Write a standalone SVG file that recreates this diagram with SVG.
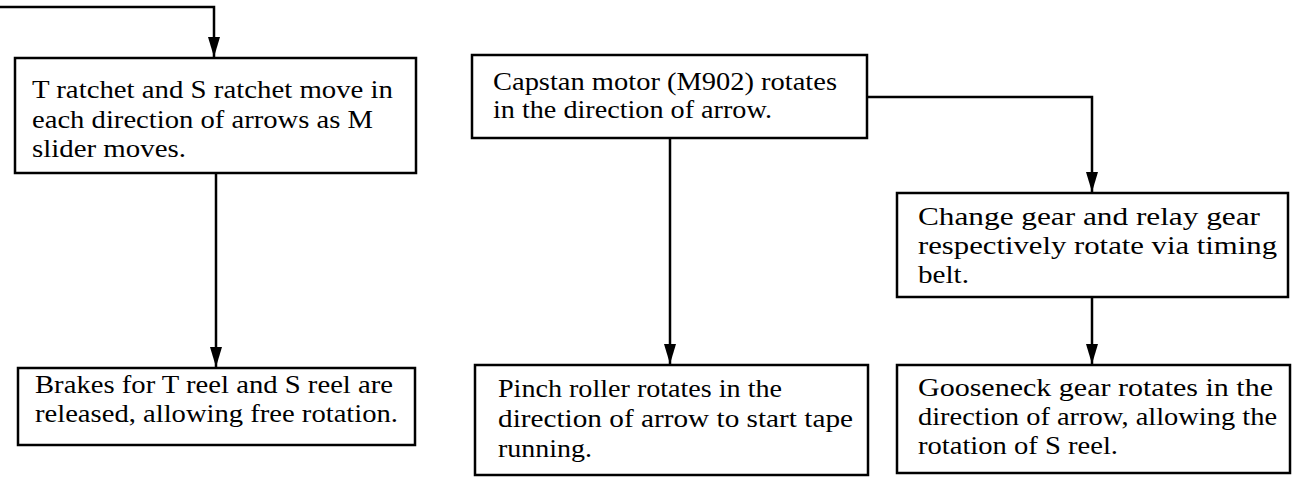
<svg xmlns="http://www.w3.org/2000/svg" width="1292" height="477" viewBox="0 0 1292 477">
<style>
.box{fill:#fff;stroke:#000;stroke-width:2.5}
.t{font-family:'Liberation Serif','Tinos','Times New Roman','DejaVu Serif','Noto Serif',serif;font-size:25px;fill:#000}
.c{fill:none;stroke:#000;stroke-width:2.5}
</style>
<defs>
<marker id="ah" viewBox="0 0 20 12" refX="20" refY="6" markerWidth="20" markerHeight="12" markerUnits="userSpaceOnUse" orient="auto">
<path d="M0,0 L20,6 L0,12 z" fill="#000"/>
</marker>
</defs>
<g id="connectors">
<path class="c" d="M0,7 H214 V57" marker-end="url(#ah)"/>
<path class="c" d="M216,173 V367" marker-end="url(#ah)"/>
<path class="c" d="M670,138 V364" marker-end="url(#ah)"/>
<path class="c" d="M867,97 H1092 V192" marker-end="url(#ah)"/>
<path class="c" d="M1092,297 V364" marker-end="url(#ah)"/>
</g>
<g id="n1">
<rect class="box" x="15" y="58" width="401" height="115"/>
<text class="t" x="32" y="98" textLength="361" lengthAdjust="spacingAndGlyphs">T ratchet and S ratchet move in</text>
<text class="t" x="32" y="128" textLength="341" lengthAdjust="spacingAndGlyphs">each direction of arrows as M</text>
<text class="t" x="32" y="157" textLength="154" lengthAdjust="spacingAndGlyphs">slider moves.</text>
</g>
<g id="n2">
<rect class="box" x="472" y="55" width="395" height="83"/>
<text class="t" x="493" y="90" textLength="344" lengthAdjust="spacingAndGlyphs">Capstan motor (M902) rotates</text>
<text class="t" x="493" y="118" textLength="279" lengthAdjust="spacingAndGlyphs">in the direction of arrow.</text>
</g>
<g id="n3">
<rect class="box" x="897" y="193" width="391" height="104"/>
<text class="t" x="918" y="225" textLength="342" lengthAdjust="spacingAndGlyphs">Change gear and relay gear</text>
<text class="t" x="918" y="254" textLength="359" lengthAdjust="spacingAndGlyphs">respectively rotate via timing</text>
<text class="t" x="918" y="283" textLength="51" lengthAdjust="spacingAndGlyphs">belt.</text>
</g>
<g id="n4">
<rect class="box" x="18" y="368" width="397" height="77"/>
<text class="t" x="35" y="393" textLength="358" lengthAdjust="spacingAndGlyphs">Brakes for T reel and S reel are</text>
<text class="t" x="35" y="422" textLength="363" lengthAdjust="spacingAndGlyphs">released, allowing free rotation.</text>
</g>
<g id="n5">
<rect class="box" x="475" y="365" width="393" height="110"/>
<text class="t" x="498" y="397" textLength="284" lengthAdjust="spacingAndGlyphs">Pinch roller rotates in the</text>
<text class="t" x="498" y="427" textLength="355" lengthAdjust="spacingAndGlyphs">direction of arrow to start tape</text>
<text class="t" x="498" y="457" textLength="94" lengthAdjust="spacingAndGlyphs">running.</text>
</g>
<g id="n6">
<rect class="box" x="897" y="365" width="393" height="108"/>
<text class="t" x="918" y="396" textLength="355" lengthAdjust="spacingAndGlyphs">Gooseneck gear rotates in the</text>
<text class="t" x="918" y="425" textLength="359" lengthAdjust="spacingAndGlyphs">direction of arrow, allowing the</text>
<text class="t" x="918" y="454" textLength="200" lengthAdjust="spacingAndGlyphs">rotation of S reel.</text>
</g>
</svg>
